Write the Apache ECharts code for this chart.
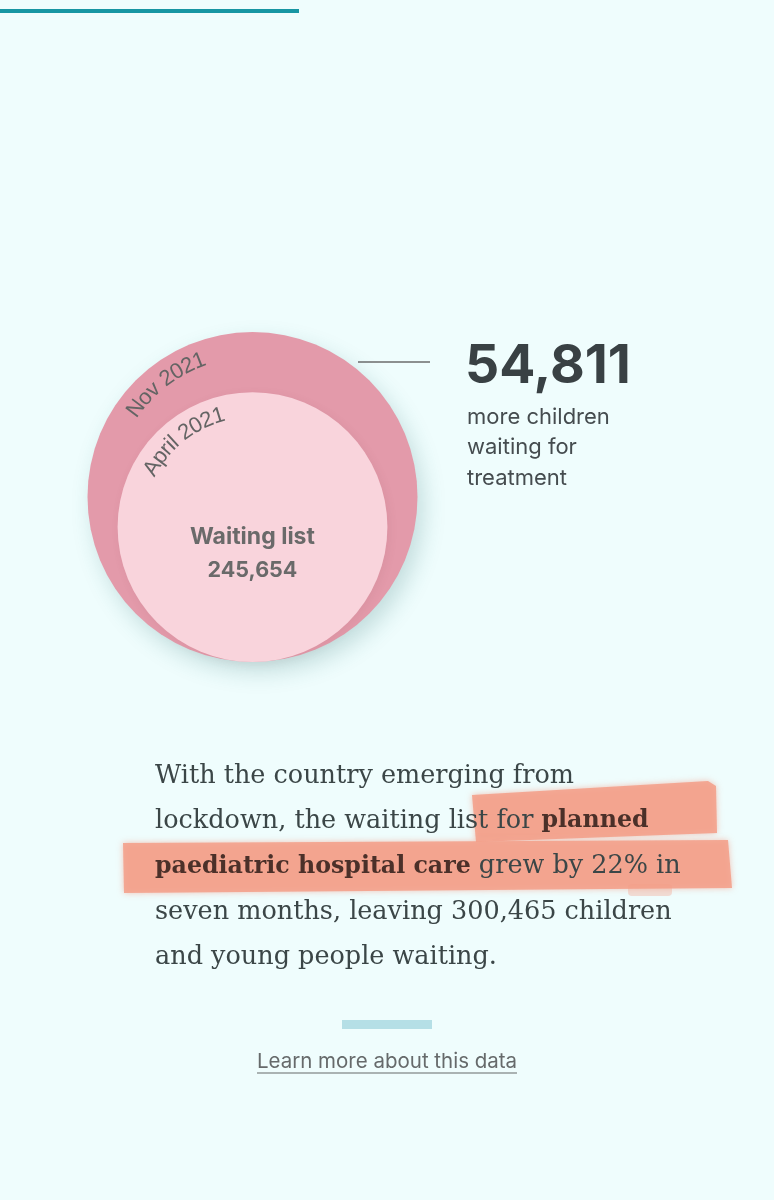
<!DOCTYPE html>
<html>
<head>
<meta charset="utf-8">
<style>
  html, body { margin: 0; padding: 0; background: #effdfd; }
  #chart { width: 774px; height: 1200px; }
</style>
<script src="https://cdn.jsdelivr.net/npm/echarts@6/dist/echarts.min.js"></script>
</head>
<body>
<div id="chart"></div>
<script>
// ---------- data ----------
const periods = ['Nov 2021', 'April 2021'];
const waitingList = [300465, 245654];
const centreLabel = ['Waiting list'];
const calloutLines = ['more children', 'waiting for', 'treatment'];
const paragraphLines = [
  [['n', 'With the country emerging from']],
  [['n', 'lockdown, the waiting list for '], ['b', 'planned']],
  [['b', 'paediatric hospital care'], ['n', ' grew by 22% in']],
  [['n', 'seven months, leaving 300,465 children']],
  [['n', 'and young people waiting.']]
];
const linkText = ['Learn more about this data'];

// ---------- styles ----------
const SANS = 'Inter, "Noto Sans", sans-serif';
const ARC = '"Liberation Sans", Arial, sans-serif';
const SERIF = '"DejaVu Serif", serif';
const circleFill = ['#e39aaa', '#f9d4dc'];
const arcCentreAngle = [-127.5, -128.5]; // degrees, screen coords
const fmt = v => v.toLocaleString('en-US');
const maxVal = Math.max.apply(null, waitingList);
const diff = waitingList[0] - waitingList[1];

const measureCtx = document.createElement('canvas').getContext('2d');
function arcText(text, cx, cy, rm, thetaDeg, size) {
  measureCtx.font = '400 ' + size + 'px ' + ARC;
  const widths = Array.from(text).map(ch => measureCtx.measureText(ch).width);
  const total = widths.reduce((a, b) => a + b, 0);
  const span = total / rm;
  let a = thetaDeg * Math.PI / 180 - span / 2;
  const out = [];
  Array.from(text).forEach((ch, i) => {
    const ang = a + (widths[i] / 2) / rm;
    a += widths[i] / rm;
    if (ch === ' ') return;
    out.push({
      type: 'text',
      x: cx + rm * Math.cos(ang),
      y: cy + rm * Math.sin(ang),
      rotation: -(ang + Math.PI / 2),
      style: {
        text: ch, fontSize: size, fontFamily: ARC, fontWeight: 400,
        fill: '#646464', align: 'center', verticalAlign: 'middle'
      }
    });
  });
  return out;
}

function renderItem(params, api) {
  const idx = params.dataIndex;
  const v = api.value(1);
  const c = api.coord([0, v]);
  const r = api.size([v, v])[0];
  const children = [{
    type: 'circle',
    shape: { cx: c[0], cy: c[1], r: r },
    style: {
      fill: circleFill[idx],
      shadowBlur: idx === 0 ? 22 : 10,
      shadowOffsetX: idx === 0 ? 6 : 2,
      shadowOffsetY: idx === 0 ? 10 : 2,
      shadowColor: idx === 0 ? 'rgba(40,110,110,0.22)' : 'rgba(120,60,70,0.08)'
    }
  }];
  arcText(periods[idx], c[0], c[1], r - 19, arcCentreAngle[idx], 22)
    .forEach(t => children.push(t));
  if (idx === 1) {
    children.push({
      type: 'text', x: c[0], y: c[1] + 10,
      style: { text: centreLabel[0], fontSize: 23, fontFamily: SANS, fontWeight: 700,
               fill: '#6a6a6a', align: 'center', verticalAlign: 'middle' }
    });
    children.push({
      type: 'text', x: c[0], y: c[1] + 43,
      style: { text: fmt(v), fontSize: 21.5, fontFamily: SANS, fontWeight: 700,
               fill: '#6a6a6a', align: 'center', verticalAlign: 'middle' }
    });
  }
  return { type: 'group', children: children };
}

// ---------- paragraph ----------
const rich = {
  n: { fontSize: 25.5, fontFamily: SERIF, fontWeight: 400, fill: '#3b4647' },
  b: { fontSize: 23.7, fontFamily: SERIF, fontWeight: 700, fill: '#4b3029' }
};
const paraGraphics = paragraphLines.map((line, i) => ({
  type: 'text', x: 155, y: 776 + i * 45.3, z: 10,
  style: {
    text: line.map(seg => '{' + seg[0] + '|' + seg[1] + '}').join(''),
    rich: rich, fontSize: 25.5, fontFamily: SERIF, verticalAlign: 'middle', align: 'left'
  }
}));

const hlStyle = { fill: 'rgba(243,158,136,0.86)', shadowBlur: 6, shadowColor: 'rgba(243,158,136,0.7)' };

const option = {
  backgroundColor: '#effdfd',
  animation: false,
  grid: { left: 87.5, top: 332, width: 330, height: 330 },
  xAxis: { type: 'value', min: -maxVal, max: maxVal, show: false },
  yAxis: { type: 'value', min: 0, max: 2 * maxVal, show: false },
  series: [{
    type: 'custom',
    renderItem: renderItem,
    data: waitingList.map(v => [0, v]),
    clip: false
  }],
  graphic: [
    { type: 'rect', shape: { x: 0, y: 9, width: 299, height: 4 }, style: { fill: '#1796a3' } },
    { type: 'line', shape: { x1: 358, y1: 362, x2: 430, y2: 362 }, style: { stroke: '#6b6b6b', lineWidth: 1.5 } },
    { type: 'text', x: 465, y: 367,
      style: { text: fmt(diff), fontSize: 53.5, fontFamily: SANS, fontWeight: 700, fill: '#394144',
               align: 'left', verticalAlign: 'middle' } },
    ...calloutLines.map((t, i) => ({
      type: 'text', x: 467, y: 417 + i * 30.5,
      style: { text: t, fontSize: 22, fontFamily: SANS, fontWeight: 400, fill: '#454c4f',
               align: 'left', verticalAlign: 'middle' }
    })),
    { type: 'polygon', z: 1, shape: { points: [[472, 795], [708, 781], [716, 786], [717, 833], [476, 842]] }, style: hlStyle },
    { type: 'polygon', z: 1, shape: { points: [[123, 843], [728, 840], [732, 888], [124, 893]] }, style: hlStyle },
    { type: 'rect', z: 1, shape: { x: 628, y: 884, width: 44, height: 12, r: 4 }, style: { fill: 'rgba(243,158,136,0.35)' } },
    ...paraGraphics,
    { type: 'rect', shape: { x: 342, y: 1020, width: 90, height: 9 }, style: { fill: '#b5dfe6' } },
    { type: 'text', x: 387, y: 1062,
      style: { text: linkText[0], fontSize: 20.5, fontFamily: SANS, fontWeight: 400, fill: '#666a6b',
               align: 'center', verticalAlign: 'middle' } },
    { type: 'line', shape: { x1: 257, y1: 1073, x2: 517, y2: 1073 }, style: { stroke: '#666a6b', lineWidth: 1.2 } }
  ]
};

const chart = echarts.init(document.getElementById('chart'), null, { renderer: 'canvas' });
chart.setOption(option);
</script>
</body>
</html>
